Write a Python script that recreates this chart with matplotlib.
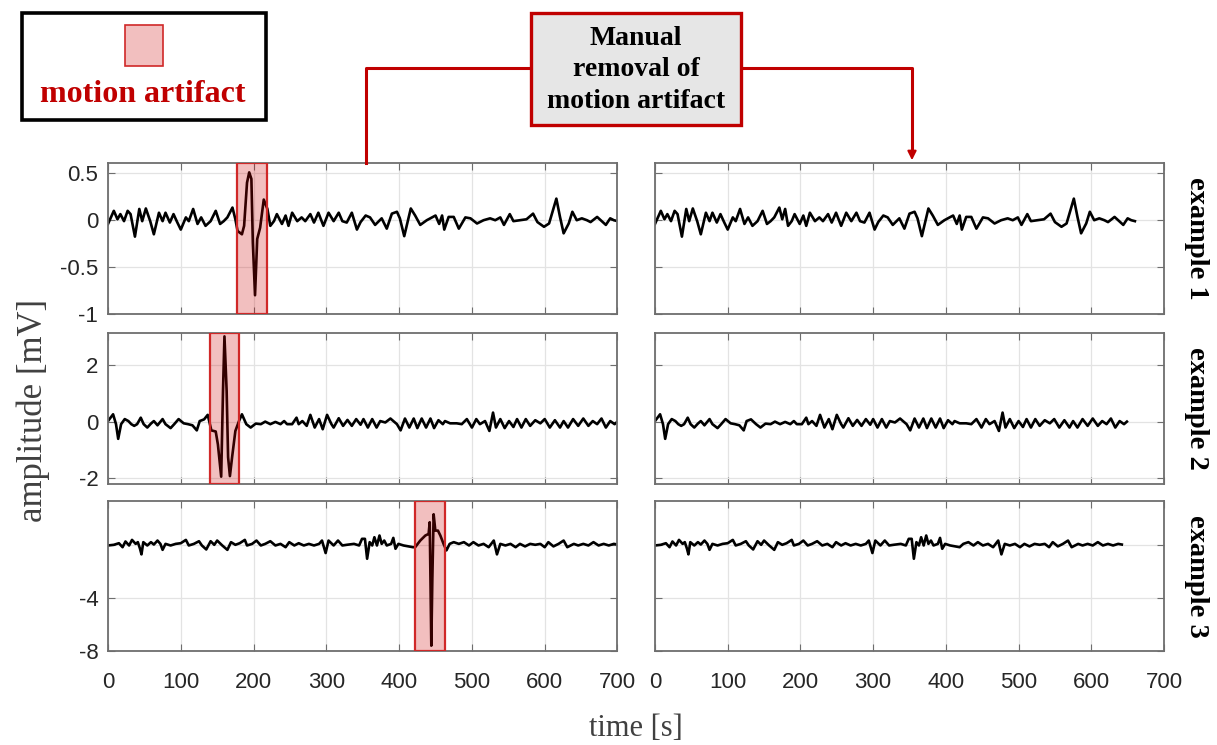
import numpy as np
import matplotlib
matplotlib.use("Agg")
import matplotlib.pyplot as plt
from matplotlib.patches import Rectangle, FancyArrowPatch
from matplotlib.lines import Line2D

W, H = 1217, 745

# example 1: time [s] and amplitude [mV]
t1 = [0, 8, 13, 17, 22, 27, 31, 37, 43, 47, 52, 58, 63, 70, 75, 79, 85, 90, 95,
      100, 107, 111, 117, 123, 128, 134, 141, 148, 154, 159, 164, 171, 175, 178,
      184, 187, 191, 194, 197, 199, 202, 205, 209, 214, 219, 223, 228, 232, 239,
      244, 248, 253, 260, 266, 271, 278, 283, 289, 296, 303, 310, 317, 322, 328,
      335, 342, 347, 354, 360, 367, 376, 383, 390, 397, 401, 407, 416, 422, 429,
      438, 450, 455, 459, 462, 468, 475, 482, 491, 498, 507, 516, 525, 532, 539,
      544, 552, 557, 566, 575, 584, 590, 599, 606, 616, 621, 626, 633, 638, 644,
      651, 658, 663, 672, 684, 690, 695, 700]
v1 = [-0.04, 0.10, 0.01, 0.065, -0.01, 0.10, 0.065, -0.175, 0.12, -0.01, 0.125,
      -0.01, -0.15, 0.08, -0.01, 0.08, -0.025, 0.065, -0.02, -0.10, 0.03, -0.01,
      0.12, -0.04, 0.03, -0.06, -0.01, 0.10, -0.04, -0.01, 0.03, 0.135, 0.01,
      -0.115, -0.15, -0.06, 0.40, 0.51, 0.44, -0.24, -0.80, -0.20, -0.08, 0.22,
      0.12, -0.06, -0.01, 0.065, -0.04, 0.05, -0.06, 0.08, -0.01, 0.03, -0.01,
      0.065, -0.025, 0.08, -0.06, 0.08, -0.01, 0.08, -0.01, -0.025, 0.08, -0.10,
      -0.02, 0.05, 0.03, -0.05, 0.02, -0.09, 0.07, 0.09, 0.02, -0.17, 0.125, 0.05,
      -0.05, 0.0, 0.05, -0.04, 0.05, -0.10, 0.035, 0.035, -0.09, 0.03, 0.02,
      -0.035, 0.0, 0.02, 0.0, 0.03, -0.05, 0.065, -0.01, 0.0, 0.01, 0.07, -0.02,
      -0.07, -0.035, 0.23, 0.035, -0.14, -0.035, 0.09, 0.0, 0.02, 0.0, -0.02,
      0.035, -0.05, 0.02, 0.0, -0.01]

# example 2
t2 = [0, 7, 11, 14, 18, 23, 28, 32, 36, 40, 45, 49, 54, 59, 63, 68, 75, 79, 86,
      91, 97, 104, 110, 116, 122, 126, 132, 137, 142, 148, 151, 155.5, 158, 160,
      163, 165, 167.5, 170.5, 175, 180, 184, 190, 196, 203, 210, 216, 223, 230,
      237, 242, 246, 253, 259, 262, 267, 273, 278, 284, 290, 295, 301, 307, 310,
      317, 323, 329, 335, 341, 347, 351, 357, 363, 369, 374, 381, 388, 392, 397,
      402, 408, 414, 420, 425, 431, 437, 443, 448, 454, 460, 463, 470, 479, 486,
      493, 500, 506, 511, 518, 524, 529, 533, 539, 545, 551, 557, 562, 568, 574,
      580, 587, 594, 600, 607, 614, 621, 626, 632, 639, 646, 653, 660, 666, 672,
      678, 684, 690, 696, 700]
v2 = [0.03, 0.27, -0.08, -0.60, -0.08, 0.10, 0.03, -0.08, -0.14, -0.08, 0.15,
      -0.08, -0.20, -0.06, 0.03, -0.12, 0.10, -0.08, -0.22, -0.08, 0.10, -0.05,
      -0.08, -0.12, -0.30, 0.03, 0.09, 0.25, -0.30, -0.34, -0.80, -1.94, 1.10,
      3.03, 1.10, -1.25, -1.92, -1.25, -0.32, 0.03, 0.27, -0.08, -0.20, -0.06,
      -0.08, 0.01, -0.08, 0.0, -0.08, 0.03, -0.08, -0.08, 0.15, -0.08, 0.03,
      -0.14, 0.25, -0.20, 0.10, -0.26, 0.25, -0.08, -0.20, 0.13, -0.14, 0.07,
      -0.14, 0.10, -0.10, 0.10, -0.20, 0.10, -0.20, 0.03, -0.02, 0.12, 0.03,
      -0.08, -0.30, 0.12, -0.20, 0.12, -0.22, 0.12, -0.20, 0.12, -0.22, 0.06,
      -0.08, 0.03, -0.05, -0.05, -0.08, 0.10, -0.20, 0.10, -0.08, 0.03, -0.32,
      0.33, -0.20, 0.10, -0.22, 0.03, -0.18, 0.10, -0.20, 0.10, -0.14, 0.06,
      -0.05, 0.10, -0.20, 0.06, -0.20, 0.03, -0.20, 0.10, -0.14, 0.12, -0.14,
      0.03, -0.08, 0.12, -0.20, 0.03, -0.08, 0.01]

# example 3
t3 = [0, 8, 15, 20, 24, 29, 33, 38, 41, 44, 46, 48.5, 54, 59, 63, 68, 72, 75,
      79, 86, 93, 100, 107, 111, 118, 125, 129, 135, 141, 146, 150, 157, 164,
      169, 175, 181, 188, 191, 198, 204, 210, 216, 223, 230, 237, 244, 249, 256,
      262, 269, 276, 283, 290, 294, 299, 303, 310, 316, 322, 328, 338, 345, 349,
      353, 356, 359.5, 363, 366, 369.5, 373, 376, 379.5, 383, 389, 392, 395, 399,
      406, 413, 419, 422, 429, 436, 440.5, 442, 443.3, 444.2, 445.6, 447.4,
      449.7, 453.3, 456.6, 461, 465, 469.4, 475, 482, 489, 496, 502, 509, 516,
      523, 530, 534.4, 539, 546, 553, 560, 566, 573, 580, 587, 594, 600, 605,
      612, 619, 626, 631, 640, 646, 653, 660, 667, 674, 681, 688, 695, 700]
v3 = [-0.05, 0.0, 0.12, -0.18, 0.25, -0.05, 0.37, 0.07, 0.20, -0.30, -0.72,
      0.20, -0.05, 0.20, 0.02, 0.32, 0.07, -0.38, 0.07, -0.05, 0.07, 0.12, 0.37,
      -0.05, 0.07, 0.27, -0.05, -0.35, 0.27, 0.0, 0.32, -0.05, -0.38, 0.20, 0.0,
      0.12, 0.37, -0.05, 0.07, 0.32, -0.05, 0.07, 0.27, -0.05, 0.07, -0.18, 0.20,
      -0.05, 0.12, -0.05, 0.07, -0.05, 0.07, 0.32, -0.62, 0.32, -0.05, 0.32,
      -0.05, 0.0, 0.07, -0.05, 0.45, 0.45, -1.05, 0.20, -0.05, 0.57, -0.05, 0.70,
      0.07, 0.32, -0.05, 0.07, 0.52, -0.30, 0.07, -0.05, -0.12, -0.18, -0.18,
      0.32, 0.70, 0.82, 1.70, -3.9, -7.6, -2.6, 2.3, 1.07, 1.07, 0.70, 0.07,
      -0.42, 0.07, 0.20, 0.07, 0.20, -0.05, 0.20, -0.05, 0.07, -0.18, 0.32,
      -0.72, 0.07, -0.05, 0.07, -0.18, 0.07, -0.12, 0.07, 0.0, 0.07, -0.18,
      0.20, -0.12, 0.07, 0.32, -0.18, 0.07, -0.05, 0.07, -0.05, 0.20, -0.05,
      0.07, -0.05, 0.07, 0.02]

# shaded motion artifact [start, end] and the segment cut out for the clean trace
boxes = [(177, 218), (140, 180), (422, 463)]
cuts = [(177, 217), (136, 187), (420, 478)]

ylims = [(-1, 0.61), (-2.2, 3.15), (-8, 3.3)]
yticks = [[-1, -0.5, 0, 0.5], [-2, 0, 2], [-8, -4, 0]]
yticklabels = [['-1', '-0.5', '0', '0.5'], ['-2', '0', '2'], ['-8', '-4', '']]
names = ['example 1', 'example 2', 'example 3']
xticks = list(range(0, 701, 100))

RED = '#c00000'
SPINE = '#6e6e6e'
SERIF = 'Liberation Serif'


def fx(px):
    return px / W


def fy(py):
    return 1 - py / H


def remove_segment(t, v, cut):
    t = np.asarray(t, float)
    v = np.asarray(v, float)
    a, b = cut
    keep = (t < a) | (t > b)
    tt = np.where(t > b, t - (b - a), t)
    return tt[keep], v[keep]


def style(ax, row, show_y):
    ax.set_xlim(0, 700)
    ax.set_ylim(*ylims[row])
    ax.set_xticks(xticks)
    ax.set_yticks(yticks[row])
    ax.set_yticklabels(yticklabels[row] if show_y else [])
    if row == 2:
        ax.set_xticklabels([str(x) for x in xticks])
    else:
        ax.set_xticklabels([])
    ax.grid(True, color='#e3e3e3', lw=0.9)
    ax.set_axisbelow(True)
    ax.tick_params(direction='in', top=True, right=True, length=5,
                   color=SPINE, labelcolor='#262626', labelsize=16)
    ax.tick_params(axis='x', pad=15)
    ax.tick_params(axis='y', pad=7)
    for lab in ax.get_xticklabels() + ax.get_yticklabels():
        lab.set_family('Liberation Sans')
    for s in ax.spines.values():
        s.set_color(SPINE)
        s.set_linewidth(1.3)


fig = plt.figure(figsize=(W / 100, H / 100), dpi=100)

rows_px = [(163, 314), (333, 484), (501, 651)]
cols_px = [(108, 617.5), (655, 1164)]
series = [(t1, v1), (t2, v2), (t3, v3)]

for r, (top, bot) in enumerate(rows_px):
    t, v = series[r]
    for c, (x0, x1) in enumerate(cols_px):
        ax = fig.add_axes([fx(x0), fy(bot), fx(x1) - fx(x0), (bot - top) / H])
        if c == 0:
            ax.plot(t, v, color='black', lw=1.9, zorder=2)
            a, b = boxes[r]
            lo, hi = ylims[r]
            ax.add_patch(Rectangle((a, lo), b - a, hi - lo, facecolor=(0.8, 0, 0, 0.25),
                                   edgecolor='#d02828', lw=1.6, zorder=3))
        else:
            tc, vc = remove_segment(t, v, cuts[r])
            ax.plot(tc, vc, color='black', lw=1.9, zorder=2)
        style(ax, r, c == 0)
    fig.text(fx(1197), fy((top + bot) / 2), names[r], rotation=270, ha='center',
             va='center', fontsize=20.5, fontweight='bold', family=SERIF)

fig.text(fx(33), fy(410), 'amplitude [mV]', rotation=90, ha='center', va='center',
         fontsize=25, color='#404040', family=SERIF)
fig.text(fx(636), fy(728), 'time [s]', ha='center', va='center',
         fontsize=22, color='#404040', family=SERIF)

# legend box
fig.add_artist(Rectangle((fx(22), fy(120)), fx(244), 107 / H, transform=fig.transFigure,
                         facecolor='white', edgecolor='black', lw=2.6))
fig.add_artist(Rectangle((fx(125), fy(66)), fx(38), 41 / H, transform=fig.transFigure,
                         facecolor=(0.8, 0, 0, 0.25), edgecolor='#d02828', lw=1.2))
fig.text(fx(143), fy(94), 'motion artifact', ha='center', va='center', fontsize=23,
         fontweight='bold', color=RED, family=SERIF)

# note box with connectors
fig.add_artist(Rectangle((fx(531), fy(125)), fx(210), 112 / H, transform=fig.transFigure,
                         facecolor='#e6e6e6', edgecolor=RED, lw=2.4, zorder=5))
fig.text(fx(636), fy(70), 'Manual\nremoval of\nmotion artifact', ha='center', va='center',
         fontsize=20, fontweight='bold', color='black', family=SERIF,
         linespacing=1.35, zorder=6)
fig.add_artist(Line2D([fx(366), fx(366), fx(531)], [fy(163), fy(68), fy(68)],
                      transform=fig.transFigure, color=RED, lw=2.2))
fig.add_artist(Line2D([fx(741), fx(912), fx(912)], [fy(68), fy(68), fy(152)],
                      transform=fig.transFigure, color=RED, lw=2.2))
fig.add_artist(FancyArrowPatch((fx(912), fy(148)), (fx(912), fy(163)),
                               transform=fig.transFigure, arrowstyle='-|>',
                               mutation_scale=13, color=RED, lw=1.5))

fig.savefig('out.png', dpi=100)
